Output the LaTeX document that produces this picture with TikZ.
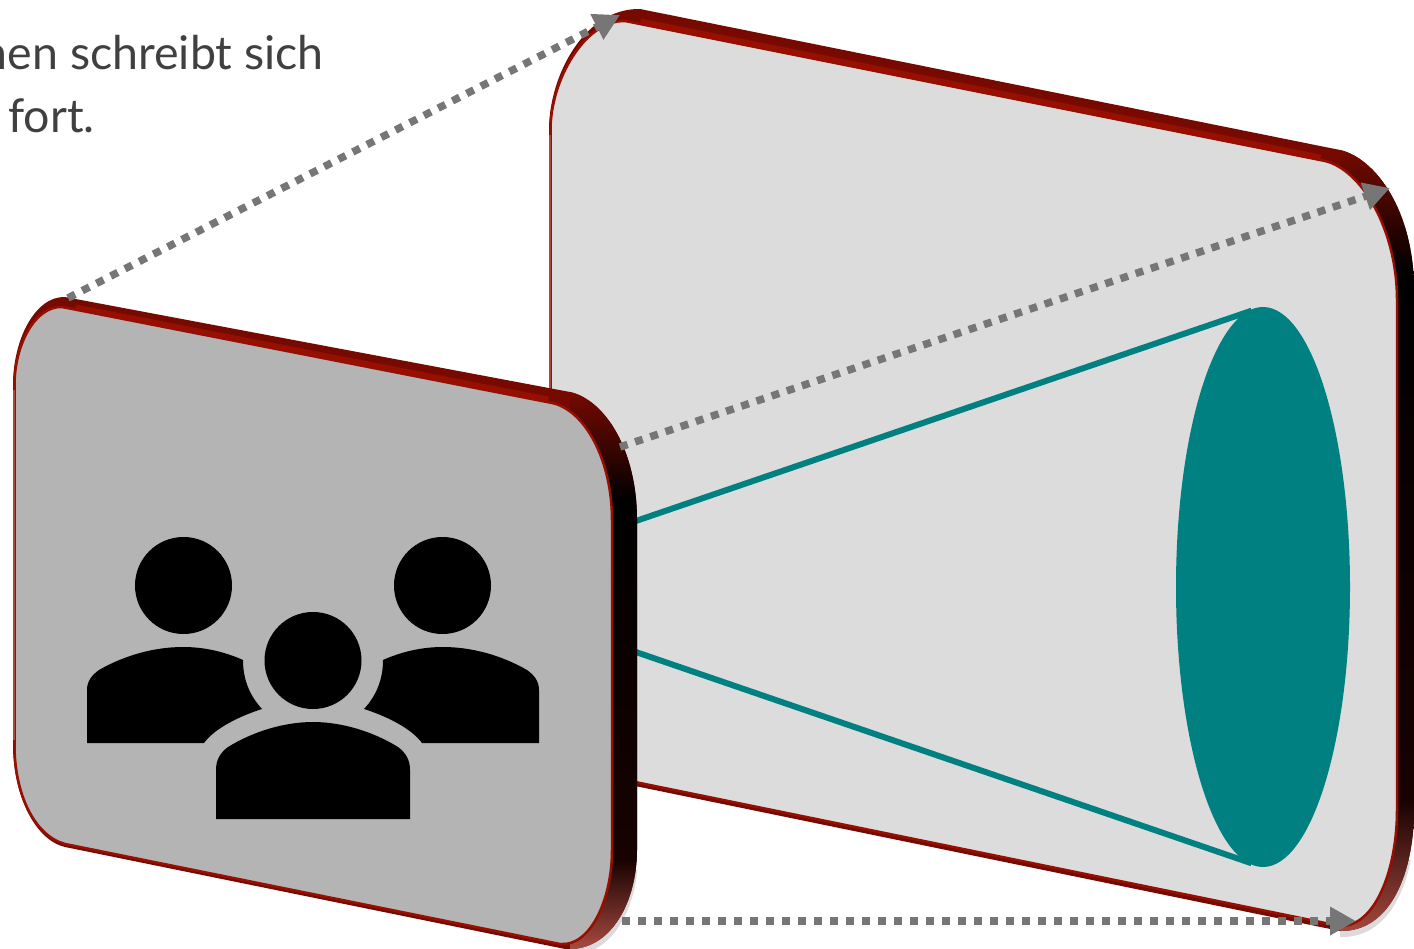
\documentclass[tikz,border=0pt]{standalone}
\usepackage{fontspec}
\setmainfont{Lato}
\usetikzlibrary{arrows.meta,shapes.geometric}
\definecolor{rimdark}{HTML}{760A00}
\definecolor{rimred}{HTML}{960F00}
\definecolor{rimfade}{HTML}{A84A40}
\definecolor{backface}{HTML}{DCDCDC}
\definecolor{frontface}{HTML}{B4B4B4}
\definecolor{lenscol}{HTML}{008080}
\definecolor{dotcol}{HTML}{767676}
\definecolor{textcol}{HTML}{404040}
\newcommand{\backouter}{(549,130) .. controls (549,75) and (585,8) .. (640,9) -- (1340,150) .. controls (1375,158) and (1414,210) .. (1414,290) -- (1414,810) .. controls (1414,870) and (1392,932) .. (1340,931) -- (640,787) -- (600,779) -- (549,700) -- cycle}
\newcommand{\backinner}{(550.5,130) .. controls (550.5,80) and (585,20) .. (625,21) -- (1325,161) .. controls (1362,170) and (1397,230) .. (1397,300) -- (1397,810) .. controls (1397,870) and (1375,927) .. (1340,926) -- (640,783) -- (600,775) -- (550.5,700) -- cycle}
\newcommand{\frontouter}{(13,385) .. controls (13,340) and (35,296) .. (65,297) -- (570,392) .. controls (605,400) and (637,450) .. (637,520) -- (637,850) .. controls (637,900) and (612,952) .. (565,949) -- (65,847) .. controls (35,840) and (13,795) .. (13,745) -- cycle}
\newcommand{\frontinner}{(14.5,385) .. controls (14.5,345) and (35,306) .. (62,307) -- (552,403) .. controls (585,410) and (612,460) .. (612,520) -- (612,850) .. controls (612,900) and (590,947) .. (560,944) -- (65,844) .. controls (35,836) and (14.5,795) .. (14.5,745) -- cycle}
\tikzset{
  rim/.style={fill=rimdark},
  rimband/.style={draw=rimred, line width=11pt},
  rimthin/.style={draw=rimfade, line width=2pt},
  backpanel/.style={fill=backface, draw=rimred, line width=2.5pt},
  frontpanel/.style={fill=frontface, draw=rimred, line width=2.5pt},
  beam/.style={draw=lenscol, line width=6pt, shorten >=12pt},
  lens/.style={ellipse, fill=lenscol, minimum width=174pt, minimum height=560pt, inner sep=0pt},
  person/.style={circle, fill=black, minimum size=97pt, inner sep=0pt},
  sight/.style={draw=dotcol, line width=7.5pt, dash pattern=on 8pt off 8pt, -{Triangle[length=26pt,width=27pt]}},
  caption/.style={inner sep=0pt, text=textcol, font=\fontsize{46.5}{54}\selectfont}
}
\begin{document}
\begin{tikzpicture}[x=1pt,y=-1pt]
  \useasboundingbox (0,0) rectangle (1414,949);
  % back panel
  \begin{scope}
    \clip (1340,860) rectangle (1414,949);
    \fill[black!14] [shift={(1,6)}] \backouter;
  \end{scope}
  \fill[rim] \backouter;
  \begin{scope}
    \clip \backouter;
    \shade[top color=rimdark, bottom color=black] (1340,150) rectangle (1414,270);
    \shade[top color=black, bottom color=black!80!rimdark] (1340,270) rectangle (1414,800);
    \shade[top color=black!80!rimdark, bottom color=rimfade] (1340,800) rectangle (1414,935);
  \end{scope}
  \path[rimband] (640,24) -- (1320,160);
  \path[backpanel] \backinner;
  \path[rimthin] (550,135) -- (550,395);
  % beam and lens
  \node[lens] (disc) at (1263,587) {};
  \coordinate (beamtop) at (630,523);
  \coordinate (beambot) at (630,650);
  \draw[beam] (beamtop) -- (disc.90);
  \draw[beam] (beambot) -- (disc.270);
  % front panel
  \begin{scope}
    \clip (575,870) rectangle (660,949);
    \fill[black!14] [shift={(1,6)}] \frontouter;
  \end{scope}
  \fill[rim] \frontouter;
  \begin{scope}
    \clip \frontouter;
    \shade[top color=rimdark, bottom color=black] (570,392) rectangle (637,500);
    \shade[top color=black, bottom color=black!80!rimdark] (570,500) rectangle (637,860);
    \shade[top color=black!80!rimdark, bottom color=rimfade] (570,860) rectangle (637,949);
  \end{scope}
  \path[rimband] (75,310) -- (548,402);
  \path[frontpanel] \frontinner;
  \path[rimthin] (14,390) -- (14,740);
  % people
  \fill (87,743) -- (87,690) .. controls (87,681) and (92,675) .. (99,670) .. controls (125,655) and (155,647) .. (183,647) .. controls (205,647) and (225,652) .. (243,660) .. controls (243,680) and (250,696) .. (262,709) .. controls (240,716) and (215,728) .. (204,743) -- cycle;
  \begin{scope}[shift={(626,0)},xscale=-1]
    \fill (87,743) -- (87,690) .. controls (87,681) and (92,675) .. (99,670) .. controls (125,655) and (155,647) .. (183,647) .. controls (205,647) and (225,652) .. (243,660) .. controls (243,680) and (250,696) .. (262,709) .. controls (240,716) and (215,728) .. (204,743) -- cycle;
  \end{scope}
  \fill (216,819) -- (216,770) .. controls (216,760) and (220,753) .. (228,747) .. controls (254,731) and (285,722) .. (313,722) .. controls (341,722) and (372,731) .. (398,747) .. controls (406,753) and (410,760) .. (410,770) -- (410,819) -- cycle;
  \node[person] (headleft) at (183.5,585.5) {};
  \node[person] (headright) at (442.5,585.5) {};
  \node[person] (headmid) at (313,660.5) {};
  % text
  \begin{scope}
    \clip (0,0) rectangle (1414,949);
    \node[caption, anchor=base east] (lineone) at (324,70) {nen schreibt sich};
    \node[caption, anchor=base west] (linetwo) at (8,133) {fort.};
  \end{scope}
  % arrows
  \coordinate (fronttop) at (68,298);
  \coordinate (backtop) at (620,15);
  \coordinate (frontright) at (620,447);
  \coordinate (backright) at (1390,188);
  \coordinate (frontbot) at (622,921);
  \coordinate (backbot) at (1356,921);
  \draw[sight] (fronttop) -- (backtop);
  \draw[sight] (frontright) -- (backright);
  \draw[sight] (frontbot) -- (backbot);
\end{tikzpicture}
\end{document}
